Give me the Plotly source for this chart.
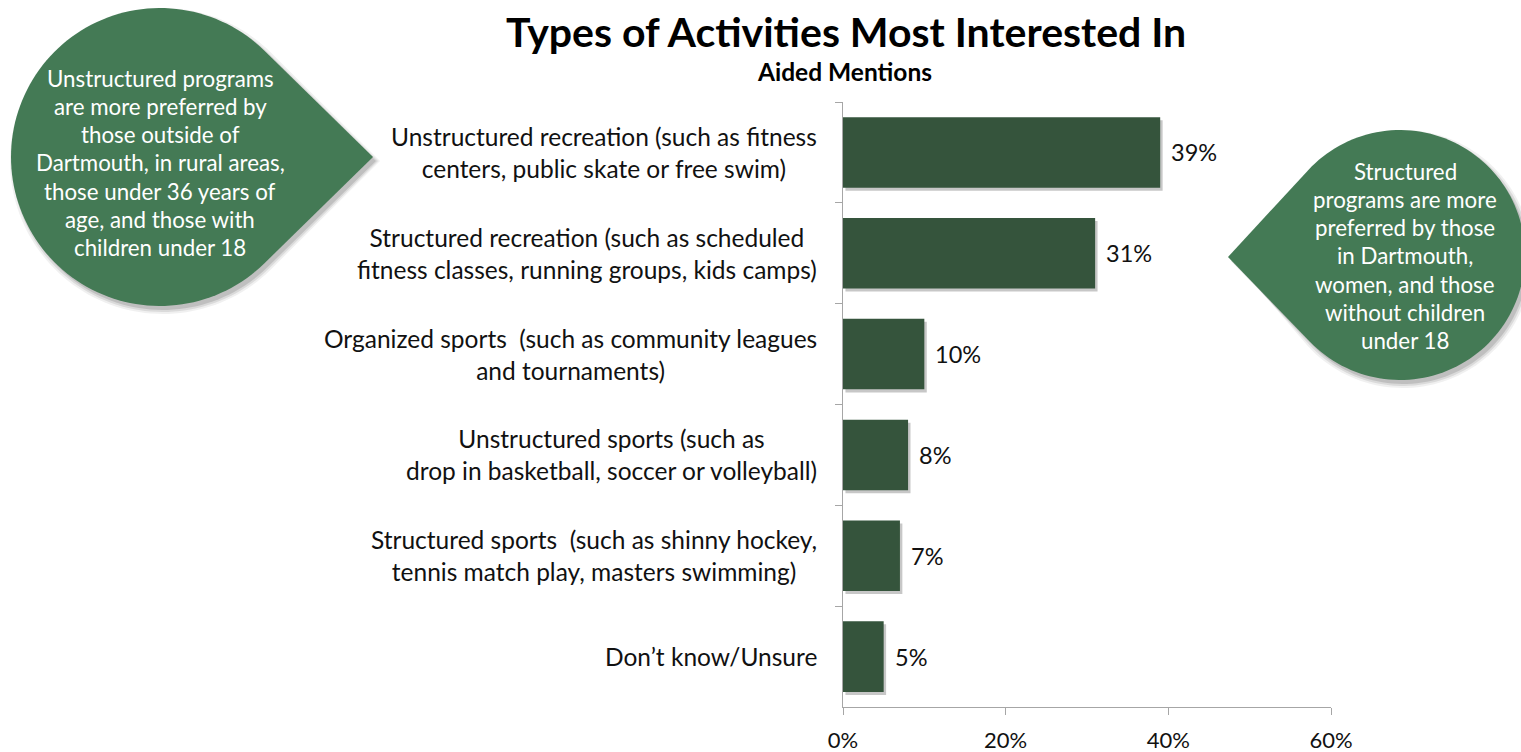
import math
import plotly.graph_objects as go

# Survey results: share of respondents interested in each activity type
categories = [
    "Unstructured recreation (such as fitness<br>centers, public skate or free swim)",
    "Structured recreation (such as scheduled<br>fitness classes, running groups, kids camps)",
    "Organized sports  (such as community leagues<br>and tournaments)",
    "Unstructured sports (such as<br>drop in basketball, soccer or volleyball)",
    "Structured sports  (such as shinny hockey,<br>tennis match play, masters swimming)",
    "Don\u2019t know/Unsure",
]
values = [39, 31, 10, 8, 7, 5]
x_ticks = [0, 20, 40, 60]

title_text = "Types of Activities Most Interested In"
subtitle_text = "Aided Mentions"

left_note = [
    "Unstructured programs",
    "are more preferred by",
    "those outside of",
    "Dartmouth, in rural areas,",
    "those under 36 years of",
    "age, and those with",
    "children under 18",
]
right_note = [
    "Structured",
    "programs are more",
    "preferred by those",
    "in Dartmouth,",
    "women, and those",
    "without children",
    "under 18",
]

W, H = 1521, 752
PL, PR, PT, PB = 843, 1331, 102, 707  # plot area in page pixels
FONT = "Lato, 'Open Sans', sans-serif"
BAR = "#35543C"
NOTE = "#447A55"
AXIS = "#A6A6A6"


def px(x):
    return (x - PL) / (PR - PL)


def py(y):
    return (PB - y) / (PB - PT)


def teardrop(cx, cy, r, tx, ty, dx=0.0, dy=0.0, n=120):
    d = math.hypot(tx - cx, ty - cy)
    th = math.atan2(ty - cy, tx - cx)
    a = math.acos(r / d)
    pts = [(tx, ty)]
    start, end = th + a, th - a + 2 * math.pi
    for i in range(n + 1):
        t = start + (end - start) * i / n
        pts.append((cx + r * math.cos(t), cy + r * math.sin(t)))
    path = "M " + " L ".join(f"{px(x + dx):.5f},{py(y + dy):.5f}" for x, y in pts) + " Z"
    return path


fig = go.Figure()

# soft drop shadow behind the bars
fig.add_trace(go.Bar(
    y=categories, x=values, base=0.3, orientation="h",
    width=0.7, offset=-0.35 + 0.03,
    marker=dict(color="rgba(0,0,0,0.22)", line=dict(width=0)),
    hoverinfo="skip", showlegend=False,
))
fig.add_trace(go.Bar(
    y=categories, x=values, orientation="h", width=0.7,
    marker=dict(color=BAR, line=dict(width=0)),
    showlegend=False,
))

annotations = []
for cat, v in zip(categories, values):
    annotations.append(dict(
        x=v, y=cat, xref="x", yref="y", text=f"{v}%", showarrow=False,
        xanchor="left", xshift=9, font=dict(family=FONT, size=23.5, color="#111"),
    ))
    annotations.append(dict(
        x=px(819), y=cat, xref="paper", yref="y", text=cat, showarrow=False,
        xanchor="right", align="center", font=dict(family=FONT, size=24.5, color="#111"),
    ))

annotations.append(dict(
    x=px(846), y=py(31), xref="paper", yref="paper", text=f"<b>{title_text}</b>",
    showarrow=False, xanchor="center", yanchor="middle",
    font=dict(family=FONT, size=41, color="#000"),
))
annotations.append(dict(
    x=px(844), y=py(72), xref="paper", yref="paper", text=f"<b>{subtitle_text}</b>",
    showarrow=False, xanchor="center", yanchor="middle",
    font=dict(family=FONT, size=24.5, color="#000"),
))

shapes = []
callouts = [
    (left_note, (160, 157, 149, 373, 157), (160, 163)),
    (right_note, (1400, 255, 125, 1228, 257), (1405, 256)),
]
for lines, (cx, cy, r, tx, ty), (lx, ly) in callouts:
    for (dx, dy, grow, alpha) in [(3, 4, 4, 0.06), (3, 4, 2, 0.09), (3, 4, 0, 0.12)]:
        shapes.append(dict(
            type="path", xref="paper", yref="paper",
            path=teardrop(cx, cy, r + grow, tx + grow, ty, dx, dy),
            fillcolor=f"rgba(0,0,0,{alpha})", line=dict(width=0), layer="below",
        ))
    shapes.append(dict(
        type="path", xref="paper", yref="paper",
        path=teardrop(cx, cy, r, tx, ty),
        fillcolor=NOTE, line=dict(width=0), layer="below",
    ))
    step = 28.3
    n = len(lines)
    for i, line in enumerate(lines):
        yy = ly + (i - (n - 1) / 2) * step
        annotations.append(dict(
            x=px(lx), y=py(yy), xref="paper", yref="paper", text=line,
            showarrow=False, xanchor="center", yanchor="middle",
            font=dict(family=FONT, size=22.3, color="#FFFFFF"),
        ))

fig.update_layout(
    width=W, height=H,
    margin=dict(l=PL, r=W - PR, t=PT, b=H - PB, pad=0, autoexpand=False),
    paper_bgcolor="white", plot_bgcolor="white",
    barmode="overlay", bargap=0.3,
    annotations=annotations, shapes=shapes,
    font=dict(family=FONT, size=21, color="#111"),
    xaxis=dict(
        range=[0, 60], tickvals=x_ticks, ticktext=[f"{t}%" for t in x_ticks],
        showgrid=False, zeroline=False, showline=True, linecolor=AXIS, linewidth=1,
        ticks="outside", ticklen=7, tickcolor=AXIS, tickwidth=1,
        tickfont=dict(family=FONT, size=22, color="#111"), ticklabelstandoff=7,
        automargin=False, fixedrange=True,
    ),
    yaxis=dict(
        categoryorder="array", categoryarray=categories, autorange="reversed",
        showgrid=False, zeroline=False, showline=True, linecolor=AXIS, linewidth=1,
        ticks="outside", ticklen=7, tickcolor=AXIS, tickwidth=1, tickson="boundaries",
        showticklabels=False, automargin=False, fixedrange=True,
    ),
)

fig.write_html("out.html")
